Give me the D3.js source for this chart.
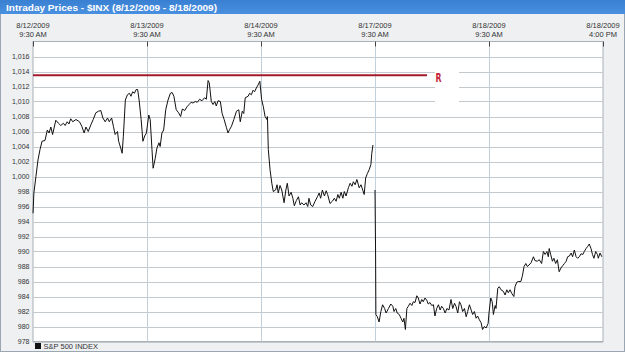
<!DOCTYPE html>
<html>
<head>
<meta charset="utf-8">
<script src="https://cdn.jsdelivr.net/npm/d3@7"></script>
<style>
  html, body { margin: 0; padding: 0; background: #fff; }
  svg { display: block; font-family: "Liberation Sans", Arial, sans-serif; }
</style>
</head>
<body>
<div id="chart"></div>
<script>
// session ticks (one per trading day open, plus the last close)
var tickDates = ['8/12/2009', '8/13/2009', '8/14/2009', '8/17/2009', '8/18/2009', '8/18/2009'];
var tickTimes = ['9:30 AM', '9:30 AM', '9:30 AM', '9:30 AM', '9:30 AM', '4:00 PM'];
var yTicks = [978, 980, 982, 984, 986, 988, 990, 992, 994, 996, 998, 1000, 1002, 1004, 1006, 1008, 1010, 1012, 1014, 1016];
var resistance = 1013.5;

// [minutes after 9:30 open, price]
var day1 = [[0,995.1],[3,997.8],[10,1000.0],[17,1002.2],[24,1003.6],[31,1004.7],[41,1004.8],[49,1006.2],[55,1005.8],[61,1006.6],[67,1005.6],[78,1007.5],[87,1007.1],[95,1006.8],[104,1007.1],[110,1006.8],[117,1007.3],[123,1007.0],[129,1007.7],[136,1007.3],[147,1007.6],[159,1007.3],[167,1006.7],[175,1005.8],[181,1006.6],[189,1006.0],[198,1006.9],[206,1007.6],[215,1008.5],[224,1008.7],[232,1008.8],[239,1007.8],[247,1007.3],[255,1007.8],[261,1007.3],[269,1007.8],[275,1006.7],[281,1005.6],[289,1006.0],[293,1004.7],[300,1003.8],[305,1003.1],[309,1005.3],[316,1010.2],[323,1010.9],[330,1011.1],[335,1010.7],[341,1011.3],[347,1011.1],[353,1011.6],[358,1011.6],[363,1010.2],[370,1007.6],[376,1004.7],[382,1005.4],[388,1005.8]];
var day2 = [[6,1008.2],[11,1007.6],[17,1003.6],[21,1001.1],[28,1002.4],[34,1003.8],[41,1004.5],[45,1004.0],[51,1005.8],[57,1006.2],[64,1008.9],[72,1010.2],[80,1011.1],[86,1011.2],[92,1010.7],[100,1008.9],[108,1008.5],[115,1008.0],[121,1009.0],[129,1008.8],[137,1009.3],[144,1009.6],[151,1009.9],[157,1009.8],[165,1010.0],[172,1009.9],[180,1010.3],[188,1010.1],[197,1010.5],[203,1010.3],[209,1012.8],[213,1012.5],[220,1010.0],[226,1009.6],[232,1010.0],[237,1009.4],[243,1010.1],[251,1010.0],[257,1008.4],[264,1007.6],[272,1006.5],[277,1005.8],[283,1006.3],[289,1006.7],[297,1007.6],[306,1008.7],[314,1008.9],[319,1007.3],[326,1008.7],[331,1008.4],[336,1010.5],[346,1010.7],[351,1011.1],[357,1010.9],[363,1011.5],[368,1011.3],[374,1011.8],[380,1012.2],[386,1012.7]];
var day3 = [[2,1010.3],[8,1009.3],[14,1008.0],[20,1007.6],[22,1008.0],[25,1003.6],[31,1000.9],[37,999.1],[42,998.0],[50,998.2],[55,998.9],[59,997.8],[65,998.8],[71,998.2],[79,996.5],[85,998.2],[90,999.1],[96,997.4],[103,997.9],[109,997.1],[114,996.1],[121,996.8],[128,997.3],[134,996.2],[139,996.5],[147,996.2],[154,996.5],[160,996.0],[164,997.1],[170,996.2],[177,996.0],[185,996.7],[193,997.3],[199,997.8],[204,997.1],[210,998.2],[217,997.4],[223,998.1],[228,997.6],[236,996.4],[244,996.7],[251,997.1],[257,996.7],[263,997.6],[268,997.1],[274,997.9],[280,997.1],[285,998.0],[291,997.4],[299,998.5],[305,999.1],[311,998.7],[316,999.3],[322,998.9],[328,999.6],[336,998.5],[342,998.9],[348,998.2],[353,997.6],[358,999.8],[364,1000.4],[370,1000.9],[376,1001.6],[379,1003.1],[383,1004.2]];
var day4 = [[0,998.2],[2,989.8],[3,981.6],[8,981.3],[14,980.6],[20,982.0],[26,982.9],[33,982.4],[38,981.8],[46,982.4],[54,983.0],[61,982.7],[65,982.0],[71,982.4],[76,981.8],[83,981.6],[89,981.1],[95,980.6],[99,981.1],[104,979.6],[109,982.4],[114,982.7],[120,983.1],[126,982.8],[131,983.3],[137,983.2],[143,984.1],[148,983.8],[154,983.0],[160,983.6],[165,983.3],[171,983.8],[177,983.5],[182,983.0],[188,983.2],[194,982.8],[200,982.9],[205,981.4],[211,982.4],[217,982.9],[223,982.2],[228,982.7],[234,982.4],[240,981.8],[246,982.4],[253,982.2],[260,983.6],[266,982.4],[272,983.1],[277,982.7],[283,981.8],[289,983.3],[294,982.9],[300,982.0],[306,982.4],[312,981.3],[317,982.0],[323,982.9],[329,982.2],[334,981.6],[340,982.0],[346,981.1],[351,981.4],[357,980.9],[363,980.5],[368,979.6],[374,980.0],[380,979.8],[387,980.4]];
var day5 = [[0,981.8],[6,983.8],[11,983.3],[15,981.6],[21,982.8],[24,982.4],[30,985.1],[35,985.3],[41,984.9],[49,984.7],[55,984.2],[61,984.9],[66,984.5],[72,984.9],[78,984.4],[85,984.0],[89,985.3],[95,985.9],[100,986.0],[109,986.0],[114,986.7],[120,988.0],[126,988.4],[131,988.0],[137,988.2],[144,988.5],[152,989.3],[157,988.8],[165,988.7],[172,988.9],[180,988.4],[186,990.0],[192,989.6],[198,990.0],[203,989.3],[206,990.4],[211,989.6],[217,988.7],[222,989.1],[228,988.4],[234,988.9],[240,987.3],[246,987.8],[252,988.1],[258,988.4],[264,988.7],[269,989.3],[275,989.4],[281,989.8],[286,989.3],[292,990.2],[298,989.3],[303,989.1],[309,989.3],[315,989.7],[321,989.6],[326,990.0],[332,990.4],[338,990.7],[343,991.0],[349,990.4],[354,989.6],[359,989.1],[365,990.0],[371,989.6],[374,989.1],[380,989.8],[386,989.3]];

var days = [day1, day2, day3, day4, day5];
var sessionLength = 390; // 9:30 - 16:00

// flatten to one series; break the line over the weekend (after 8/14)
var series = [];
days.forEach(function (d, i) {
  d.forEach(function (p) { series.push({ t: i * sessionLength + p[0], v: p[1] }); });
  if (i === 2) series.push({ t: (i + 1) * sessionLength, v: null });
});

var W = 625, H = 358;
var plot = { left: 33, right: 603, top: 41.5, bottom: 341.5 };

var svg = d3.select('#chart').append('svg')
  .attr('width', W).attr('height', H);

// frame + background
svg.append('rect').attr('x', 0).attr('y', 0).attr('width', W).attr('height', H).attr('fill', '#ffffff');
svg.append('rect').attr('x', 0.5).attr('y', 0.5).attr('width', W - 1).attr('height', 351)
  .attr('fill', '#eef0f2').attr('stroke', '#9aa6b2');

var grad = svg.append('defs').append('linearGradient').attr('id', 'titleGrad')
  .attr('x1', 0).attr('y1', 0).attr('x2', 0).attr('y2', 1);
grad.append('stop').attr('offset', '0%').attr('stop-color', '#3a80d2');
grad.append('stop').attr('offset', '100%').attr('stop-color', '#4a90e0');
svg.append('rect').attr('x', 0).attr('y', 0).attr('width', W).attr('height', 14).attr('fill', 'url(#titleGrad)');
svg.append('text')
  .attr('x', 6).attr('y', 10.5)
  .attr('fill', '#ffffff').attr('font-size', 9).attr('font-weight', 'bold')
  .attr('textLength', 211).attr('lengthAdjust', 'spacingAndGlyphs')
  .text('Intraday Prices - $INX (8/12/2009 - 8/18/2009)');

var x = d3.scaleLinear().domain([0, sessionLength * 5]).range([plot.left, plot.right]);
var y = d3.scaleLinear().domain([978, 1018]).range([plot.bottom, plot.top]);

// plot area
svg.append('rect')
  .attr('x', plot.left).attr('y', plot.top)
  .attr('width', plot.right - plot.left).attr('height', plot.bottom - plot.top)
  .attr('fill', '#ffffff').attr('stroke', '#a8b0b8').attr('stroke-width', 1);

// horizontal grid
svg.append('g').selectAll('line').data(yTicks).enter().append('line')
  .attr('x1', plot.left).attr('x2', plot.right)
  .attr('y1', function (d) { return Math.round(y(d)) + 0.5; })
  .attr('y2', function (d) { return Math.round(y(d)) + 0.5; })
  .attr('stroke', '#c4c9ce').attr('stroke-width', 1);

// vertical grid (day opens)
var dayTicks = d3.range(0, 6).map(function (i) { return i * sessionLength; });
svg.append('g').selectAll('line').data(dayTicks.slice(1, 5)).enter().append('line')
  .attr('x1', function (d) { return Math.round(x(d)) + 0.5; })
  .attr('x2', function (d) { return Math.round(x(d)) + 0.5; })
  .attr('y1', plot.top).attr('y2', plot.bottom)
  .attr('stroke', '#c2d0dc').attr('stroke-width', 1);

// top tick marks
svg.append('g').selectAll('line').data(dayTicks).enter().append('line')
  .attr('x1', function (d) { return Math.round(x(d)) + 0.5; })
  .attr('x2', function (d) { return Math.round(x(d)) + 0.5; })
  .attr('y1', plot.top).attr('y2', plot.top + 5)
  .attr('stroke', '#444').attr('stroke-width', 1);

// top axis labels (two lines)
var xl = svg.append('g').attr('font-size', 7.5).attr('fill', '#333').attr('text-anchor', 'middle');
xl.selectAll('text.d').data(dayTicks).enter().append('text').attr('class', 'd')
  .attr('x', function (d) { return x(d); }).attr('y', 27.5)
  .text(function (d, i) { return tickDates[i]; });
xl.selectAll('text.t').data(dayTicks).enter().append('text').attr('class', 't')
  .attr('x', function (d) { return x(d); }).attr('y', 36.5)
  .text(function (d, i) { return tickTimes[i]; });

// y axis labels
var fmt = d3.format(',');
svg.append('g').attr('font-size', 7).attr('fill', '#333').attr('text-anchor', 'end')
  .selectAll('text').data(yTicks).enter().append('text')
  .attr('x', 29.5).attr('y', function (d) { return y(d) + 2.5; })
  .text(function (d) { return fmt(d); });

// resistance line + "R"
svg.append('rect').attr('x', 435).attr('y', y(1014.6)).attr('width', 24).attr('height', y(1009.3) - y(1014.6))
  .attr('fill', '#ffffff');
svg.append('line')
  .attr('x1', plot.left).attr('x2', 427)
  .attr('y1', y(resistance)).attr('y2', y(resistance))
  .attr('stroke', '#a11a2a').attr('stroke-width', 2);
svg.append('text')
  .attr('x', 435.5).attr('y', y(resistance) + 7)
  .attr('font-family', '"Liberation Sans Narrow", "DejaVu Sans Condensed", sans-serif')
  .attr('font-size', 13).attr('font-weight', 'bold').attr('fill', '#c4283a')
  .attr('textLength', 6).attr('lengthAdjust', 'spacingAndGlyphs')
  .text('R');

// price line
var line = d3.line()
  .defined(function (d) { return d.v != null; })
  .x(function (d) { return x(d.t); })
  .y(function (d) { return y(d.v); });
svg.append('path').datum(series)
  .attr('d', line)
  .attr('fill', 'none').attr('stroke', '#111').attr('stroke-width', 1)
  .attr('stroke-linejoin', 'round');

// legend
svg.append('rect').attr('x', 35).attr('y', 343).attr('width', 6).attr('height', 6).attr('fill', '#111');
svg.append('text').attr('x', 43.5).attr('y', 349)
  .attr('font-size', 7.5).attr('fill', '#333')
  .text('S&P 500 INDEX');
</script>
</body>
</html>
